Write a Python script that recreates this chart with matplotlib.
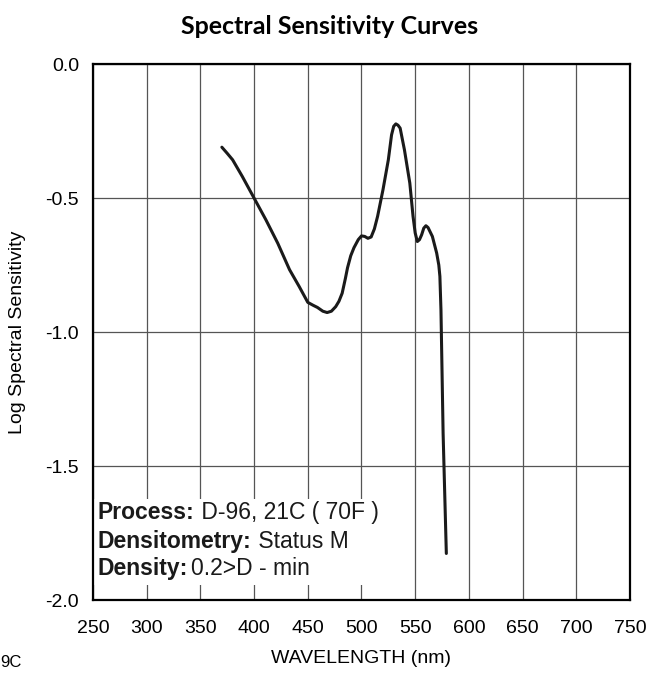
import matplotlib.pyplot as plt
from matplotlib.patches import Rectangle

plt.rcParams['font.family'] = ['Liberation Sans', 'DejaVu Sans']

# wavelength (nm) and log spectral sensitivity
wavelength = [370, 375, 380, 389, 400, 411, 422, 433, 442, 450, 455, 459, 464,
              468, 472, 476, 479, 482, 485, 487, 490, 493, 497, 500, 503, 506,
              509, 512, 515, 520, 525, 528, 530, 532, 534, 536, 540, 545, 548,
              550, 552, 554, 556, 558, 560, 562, 566, 570, 572, 573, 574, 576,
              579]
log_sens = [-0.31, -0.333, -0.357, -0.419, -0.50, -0.581, -0.668, -0.767,
            -0.830, -0.889, -0.900, -0.908, -0.922, -0.927, -0.922, -0.905,
            -0.885, -0.855, -0.800, -0.760, -0.715, -0.685, -0.655, -0.641,
            -0.643, -0.650, -0.645, -0.615, -0.568, -0.469, -0.357, -0.264,
            -0.232, -0.223, -0.228, -0.239, -0.320, -0.444, -0.568, -0.630,
            -0.662, -0.655, -0.637, -0.612, -0.603, -0.610, -0.643, -0.705,
            -0.750, -0.792, -0.917, -1.378, -1.826]

xticks = [250, 300, 350, 400, 450, 500, 550, 600, 650, 700, 750]
yticks = [0.0, -0.5, -1.0, -1.5, -2.0]

info = [("Process:", " D-96, 21C ( 70F )"),
        ("Densitometry:", " Status M"),
        ("Density:", "0.2>D - min")]

fig = plt.figure(figsize=(6.48, 6.75), dpi=100)
ax = fig.add_axes([0.1435, 0.111, 0.8287, 0.794])

ax.set_xlim(250, 750)
ax.set_ylim(-2.0, 0.0)
ax.set_xticks(xticks)
ax.set_yticks(yticks)
ax.set_yticklabels(["%.1f" % v for v in yticks])
ax.tick_params(length=0, labelsize=14, pad=10)
ax.tick_params(axis='x', pad=14)
ax.grid(True, color='#555555', lw=0.9)
ax.set_axisbelow(True)
for s in ax.spines.values():
    s.set_linewidth(1.6)
    s.set_zorder(5)

# white box behind the process notes (hides grid)
ax.add_patch(Rectangle((250.5, -1.944), 270, 0.321, facecolor='white',
                       edgecolor='none', zorder=2))

ax.plot(wavelength, log_sens, color='#1a1a1a', lw=2.2, zorder=3,
        solid_joinstyle='round', solid_capstyle='round')

ax.set_ylabel("Log Spectral Sensitivity", fontsize=14, labelpad=14)
ax.set_xlabel("WAVELENGTH (nm)", fontsize=14, labelpad=10)

fig.text(0.509, 0.96, "Spectral Sensitivity Curves", ha='center', va='center',
         fontsize=18, fontweight='bold', family=['Lato', 'DejaVu Sans'])
fig.text(0.0, 0.019, "9C", fontsize=12, va='center', ha='left')

fig.canvas.draw()
r = fig.canvas.get_renderer()
ys = [-1.675, -1.78, -1.881]
for (b, n), y in zip(info, ys):
    t = ax.text(254.5, y, b, fontsize=16.5, fontweight='bold', va='center',
                color='#1a1a1a', zorder=4)
    bb = t.get_window_extent(r)
    gap = 0 if n.startswith(" ") else 3
    x_end = ax.transData.inverted().transform((bb.x1 + gap, 0))[0]
    ax.text(x_end, y, n, fontsize=16.5, va='center', color='#1a1a1a', zorder=4)

fig.savefig("out.png", dpi=100)
